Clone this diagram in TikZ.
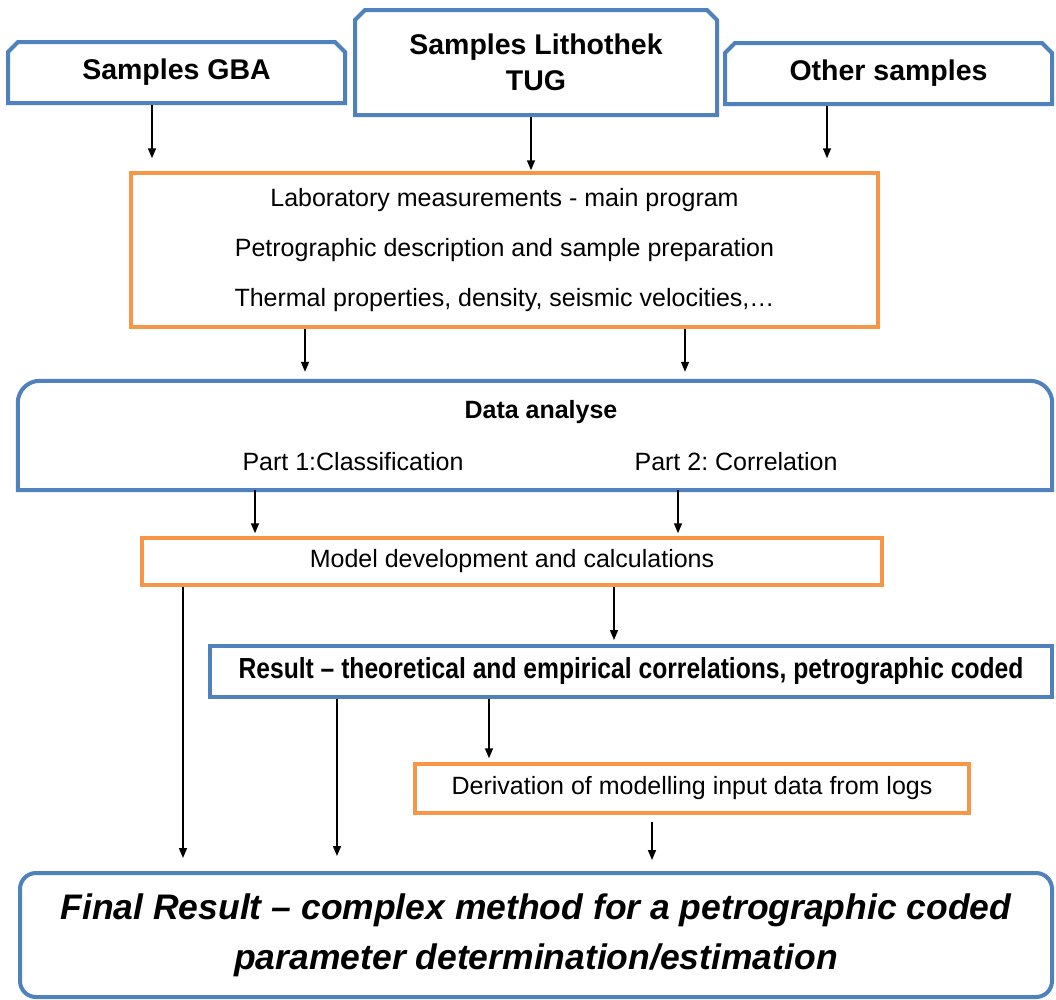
\documentclass[tikz,border=0pt]{standalone}
\usepackage{fontspec}
\setmainfont{Liberation Sans}
\newfontfamily\narrowfont[FakeStretch=0.85]{Liberation Sans}
\usetikzlibrary{arrows.meta,positioning,shapes.misc}
\frenchspacing
\definecolor{boxblue}{RGB}{79,129,189}
\definecolor{boxorange}{RGB}{247,150,70}
\tikzset{
	src/.style={draw=boxblue,line width=4pt,chamfered rectangle,chamfered rectangle corners={north west,north east},chamfered rectangle xsep=5pt,chamfered rectangle ysep=5pt,inner sep=0pt,align=center,font=\fontsize{28.5}{36}\selectfont\bfseries},
	obox/.style={draw=boxorange,line width=3.5pt,rectangle,inner sep=0pt,align=center,font=\fontsize{25}{50}\selectfont},
	bbox/.style={draw=boxblue,line width=4pt,rectangle,inner sep=0pt,align=center},
	txt/.style={inner sep=0pt,font=\fontsize{25}{28}\selectfont},
	arr/.style={-{Triangle[length=10pt,width=8pt]},line width=1.5pt}
}
\begin{document}
\begin{tikzpicture}[x=1pt,y=-1pt]
			\useasboundingbox (0,0) rectangle (1056,999);
			\node[src,minimum width=337pt,minimum height=61pt] (gba) at (176.5,72.5) {Samples GBA};
			\node[src,minimum width=362pt,minimum height=105pt] (tug) at (536,62.5) {Samples Lithothek\\TUG};
			\node[src,minimum width=327pt,minimum height=61pt] (oth) at (888.5,73.5) {Other samples};
			\node[obox,minimum width=747pt,minimum height=154pt] (lab) at (504.5,250) {Laboratory measurements - main program\\Petrographic description and sample preparation\\Thermal properties, density, seismic velocities,\dots};
			\node[minimum width=1034pt,minimum height=109pt,inner sep=0pt] (ana) at (535,435.5) {};
			\draw[boxblue,line width=4pt] (ana.south west) [rounded corners=22pt] -- (ana.north west) -- (ana.north east) [sharp corners] -- (ana.south east) -- cycle;
			\node[txt,font=\fontsize{25}{28}\selectfont\bfseries] (anatitle) at (541,412) {Data analyse};
			\node[txt] (part1) at (353,462) {Part 1:Classification};
			\node[txt] (part2) at (736,462) {Part 2: Correlation};
			\node[obox,minimum width=740pt,minimum height=47pt] (model) at (512,561.5) {Model development and calculations};
			\node[bbox,minimum width=842pt,minimum height=51pt,font=\fontsize{29}{32}\narrowfont\bfseries] (res) at (631,671.5) {Result – theoretical and empirical correlations, petrographic coded};
			\node[obox,minimum width=554pt,minimum height=49pt] (der) at (692,788.5) {Derivation of modelling input data from logs};
			\node[bbox,rounded corners=16pt,minimum width=1032pt,minimum height=124pt,font=\fontsize{35.5}{50}\selectfont\bfseries\itshape] (fin) at (536,935) {Final Result – complex method for a petrographic coded\\parameter determination/estimation};
			\draw[arr,shorten >=13pt] (gba.south -| 152,0) -- (lab.north -| 152,0);
			\draw[arr,shorten >=1pt] (tug.south -| 531,0) -- (lab.north -| 531,0);
			\draw[arr,shorten >=13pt] (oth.south -| 827,0) -- (lab.north -| 827,0);
			\draw[arr,shorten >=9pt] (lab.south -| 305,0) -- (ana.north -| 305,0);
			\draw[arr,shorten >=9pt] (lab.south -| 685,0) -- (ana.north -| 685,0);
			\draw[arr,shorten >=3pt] (ana.south -| 255,0) -- (model.north -| 255,0);
			\draw[arr,shorten >=3pt] (ana.south -| 678,0) -- (model.north -| 678,0);
			\draw[arr,shorten >=4pt] (model.south -| 614,0) -- (res.north -| 614,0);
			\draw[arr,shorten >=13pt] (model.south -| 183,0) -- (fin.north -| 183,0);
			\draw[arr,shorten >=15pt] (res.south -| 337,0) -- (fin.north -| 337,0);
			\draw[arr,shorten >=4pt] (res.south -| 489,0) -- (der.north -| 489,0);
			\draw[arr,shorten <=7pt,shorten >=11pt] (der.south -| 652,0) -- (fin.north -| 652,0);
		\end{tikzpicture}
\end{document}
